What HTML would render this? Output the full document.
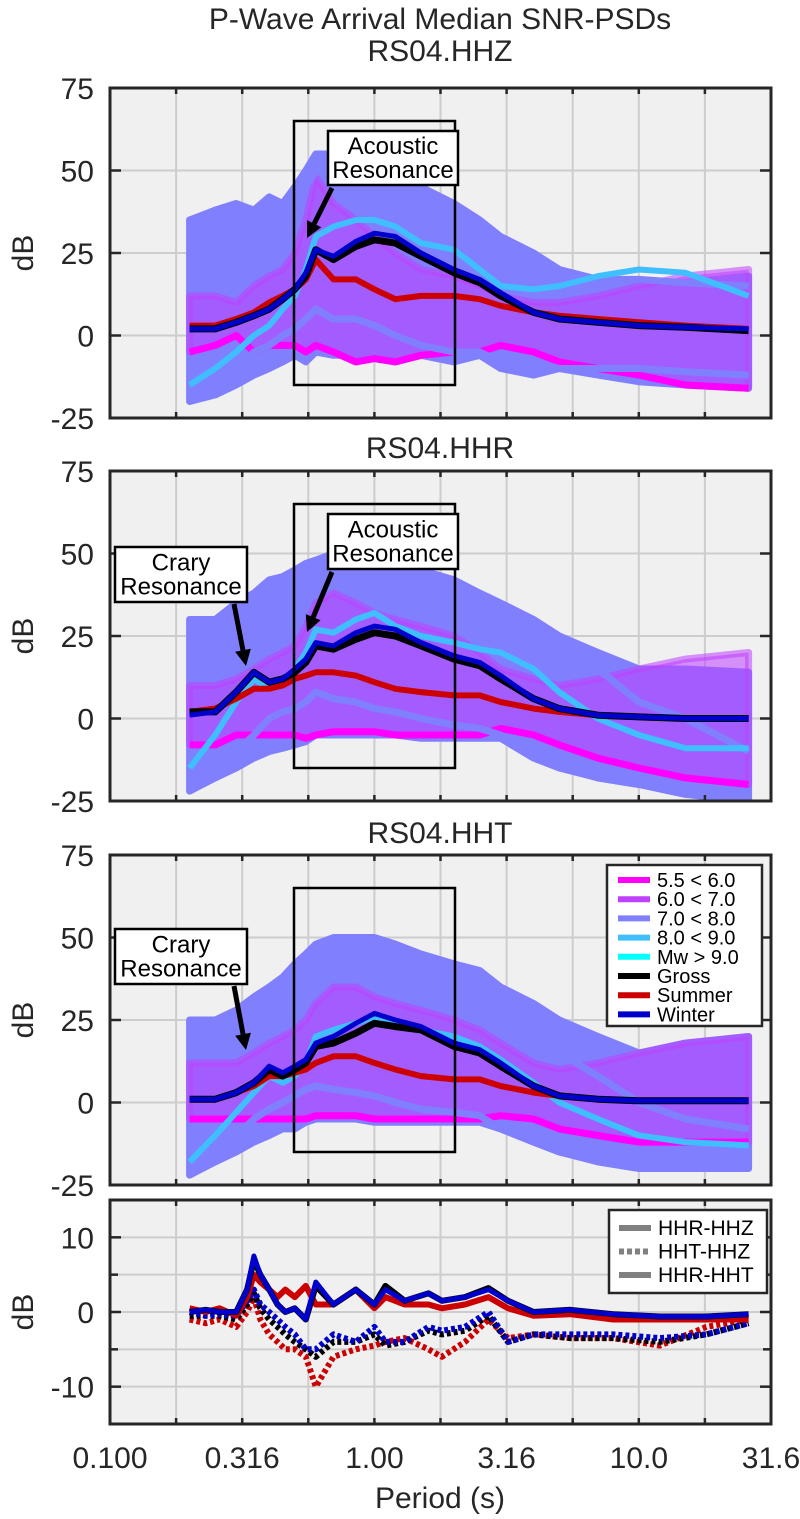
<!DOCTYPE html>
<html><head><meta charset="utf-8"><style>
html,body{margin:0;padding:0;background:#fff;}
svg{display:block;font-family:"Liberation Sans",Arial,sans-serif;}
</style></head><body>
<svg id="chart" width="800" height="1519" viewBox="0 0 800 1519" xmlns="http://www.w3.org/2000/svg"></svg>
<script>
// ---- shared period grid (s) ----
const periods = [0.2,0.25,0.3,0.35,0.4,0.45,0.5,0.55,0.6,0.7,0.85,1.0,1.2,1.5,2.0,2.5,3.0,4.0,5.0,7.0,10,15,26];
const xTickValues = [0.1,0.316,1.0,3.16,10,31.6];
const xTickLabels = ["0.100","0.316","1.00","3.16","10.0","31.6"];
const yTicksMain = [-25,0,25,50,75];
const yTicksDiff = [-10,0,10];

// ---- HHZ ----
const hhzGross  = [2,2,4,6,8,11,14,18,26,23,27,29,28,24,19,16,12,7,5,4,3,2.5,1.5];
const hhzWinter = [2,2,4,6,8,11,14,19,26,24,28.5,31,30,25,20,17,13,7,5,4,3,2.5,2];
const hhzSummer = [3,3,5,7,10,12,14,17,23,17,17,14,11,12,12,11,9,7,6,5,4,3,2];
const hhzCyan   = [-15,-10,-5,0,3,8,12,20,30,33,35,35,33,28,26,20,15,14,15,18,20,19,12];
const hhzEnvUp  = [35,38,40,38,42,40,45,50,55,55,55,52,50,45,40,35,30,25,20,17,15,16,18];
const hhzEnvLo  = [-20,-18,-15,-12,-10,-8,-6,-8,-5,-6,-6,-7,-8,-6,-8,-6,-10,-12,-10,-12,-14,-15,-16];
const hhzMagUp  = [12,12,10,15,18,20,25,35,48,40,35,30,25,20,18,15,12,10,10,12,15,18,20];
const hhzMagLo  = [-5,-3,0,-5,-3,-3,-3,-5,-3,-5,-8,-7,-8,-6,-5,-5,-3,-5,-8,-10,-12,-15,-16];
const hhzLav1   = [30,38,35,32,40,38,40,45,50,52,50,48,45,40,35,30,25,20,18,17,17,16,15];
const hhzLav2   = [-18,-15,-10,-5,-3,0,2,5,8,5,5,3,0,-3,-5,-5,-8,-8,-10,-10,-10,-11,-12];

// ---- HHR ----
const hhrGross  = [2,2,8,14,11,12,14,17,22,21,24,26,25,22,18,16,12,6,3,1,0.5,0,0];
const hhrWinter = [1,2,8,14,11,12,15,18,23,22,26,28,27,23,19,17,13,6,3,1,0.5,0,0];
const hhrSummer = [2,3,6,9,9,10,12,13,14,14,13,11,9,8,7,7,5,3,2,1,0.5,0,0];
const hhrCyan   = [-15,-5,5,12,9,10,15,20,27,26,30,32,28,25,23,21,20,15,8,0,-5,-9,-9];
const hhrEnvUp  = [30,30,35,38,42,43,45,47,48,50,52,50,48,45,42,38,35,30,25,20,15,15,14];
const hhrEnvLo  = [-22,-18,-15,-12,-10,-9,-8,-7,-5,-5,-5,-5,-5,-6,-6,-6,-6,-12,-15,-18,-20,-23,-25];
const hhrMagUp  = [10,10,12,15,18,20,22,28,35,38,35,32,30,28,25,20,15,12,10,12,15,18,20];
const hhrMagLo  = [-8,-8,-5,-5,-5,-5,-5,-6,-5,-4,-4,-4,-5,-5,-5,-5,-3,-5,-8,-12,-15,-18,-20];
const hhrLav1   = [28,25,30,35,38,40,40,42,45,45,48,45,43,40,38,36,33,28,22,15,5,0,-10];
const hhrLav2   = [-20,-15,-10,-5,0,2,3,5,8,6,5,3,2,0,-2,-3,-5,-10,-14,-18,-20,-22,-24];

// ---- HHT ----
const hhtGross  = [1,1,3,6,10,8,10,12,17,18,21,24,23,22,17,15,11,5,2,1,0.5,0.5,0.5];
const hhtWinter = [1,1,3,6,11,9,11,13,18,20,24,27,25,23,18,16,12,5,2,1,0.5,0.5,0.5];
const hhtSummer = [1,1,3,5,8,8,9,10,12,14,14,12,10,8,7,7,5,3,2,1,0.5,0.5,0.5];
const hhtCyan   = [-18,-10,-3,3,8,6,8,12,20,22,24,26,24,22,20,17,13,6,0,-5,-10,-12,-13];
const hhtEnvUp  = [25,25,28,32,35,38,42,45,48,50,50,50,48,45,42,40,35,30,25,20,15,18,20];
const hhtEnvLo  = [-22,-18,-15,-12,-10,-8,-8,-6,-5,-5,-5,-6,-6,-6,-6,-6,-8,-12,-15,-18,-20,-20,-20];
const hhtMagUp  = [12,12,12,15,18,20,22,25,30,35,35,32,30,28,25,22,18,12,10,12,15,18,20];
const hhtMagLo  = [-5,-5,-5,-5,-5,-5,-5,-5,-4,-4,-4,-5,-5,-5,-5,-5,-4,-5,-8,-10,-12,-12,-12];
const hhtLav1   = [20,22,25,30,32,35,40,42,45,47,48,46,43,40,38,35,30,22,15,8,0,-5,-8];
const hhtLav2   = [-20,-15,-10,-5,-2,0,2,4,5,4,3,2,0,-2,-3,-4,-8,-12,-15,-16,-18,-19,-20];

// ---- differences ----
const diffPeriods = [0.2,0.23,0.26,0.3,0.33,0.35,0.37,0.4,0.43,0.46,0.5,0.55,0.6,0.7,0.85,1.0,1.1,1.3,1.6,1.8,2.2,2.7,3.2,4,5.5,8,12,18,26];
const diffBlackSolid = [0,0.3,0,0,3,7,5,3,1,0,0.5,-1,3.5,1,3,1,3.5,1.5,2.5,1.5,2,3.2,1.5,0,0.3,-0.3,-0.6,-0.6,-0.3];
const diffRedSolid   = [0.5,0,0.5,-0.5,2,5,4,3,2,3,2,3.5,1,1,3,0.5,2,1,1,0.5,1,2,0.5,-0.5,-0.3,-1,-1,-1,-1];
const diffBlueSolid  = [0,0.3,0,0,3,7.5,5,3,1,0,0.5,-1,4,1,3,1,3,1.5,2.5,1.5,2,3,1.5,0,0.3,-0.3,-0.6,-0.6,-0.3];
const diffBlackDot   = [-0.5,-0.5,-0.5,-1,1,2.5,0.5,-1,-2,-3,-4,-5,-6,-4,-4,-3,-4.5,-4,-2.5,-3,-2.5,-0.5,-4,-3,-3.5,-3.5,-4,-3,-1.5];
const diffRedDot     = [-1,-1.5,-1,-2,0,2,-1,-3,-4,-5,-5,-6,-10,-6,-5,-4.5,-4,-3.5,-5,-6,-4,-1,-3.5,-3,-3.5,-3.5,-4.5,-2,-1];
const diffBlueDot    = [0,-0.5,-0.3,-0.5,1.5,3,1,0,-1,-2,-3,-5,-5,-3,-4,-2,-4,-4,-2,-2.5,-2,0,-4,-3,-3,-3,-3.5,-3,-1.5];

const legendLabels = ["5.5 < 6.0","6.0 < 7.0","7.0 < 8.0","8.0 < 9.0","Mw > 9.0","Gross","Summer","Winter"];
const legendColors = ["#ff00ff","#bf40ff","#8080ff","#40bfff","#00ffff","#000000","#cc0000","#0000cc"];
const diffLegendLabels = ["HHR-HHZ","HHT-HHZ","HHR-HHT"];

const NS = "http://www.w3.org/2000/svg";
const svg = document.getElementById("chart");
const XL = 110, XR = 771;
const FS = 30;
function xs(p){ return XL + (XR-XL) * (Math.log10(p) - Math.log10(0.1)) / (Math.log10(31.6)-Math.log10(0.1)); }
function mk(tag, attrs, parent){
  const e = document.createElementNS(NS, tag);
  for (const k in attrs) e.setAttribute(k, attrs[k]);
  (parent||svg).appendChild(e);
  return e;
}
function txt(x,y,s,size,anchor,parent){
  const t = mk("text",{x:x,y:y,"font-size":size,"text-anchor":anchor||"middle",fill:"#262626"},parent);
  t.textContent = s;
  return t;
}

function makePanel(id, top, bottom, ymin, ymax, yticks, gridVals){
  const ys = v => bottom - (v - ymin) / (ymax - ymin) * (bottom - top);
  const g = mk("g",{});
  
  
  mk("rect",{x:XL,y:top,width:XR-XL,height:bottom-top,fill:"#f0f0f0"},g);
  const clip = mk("clipPath",{id:"clip-"+id},g);
  mk("rect",{x:XL,y:top,width:XR-XL,height:bottom-top},clip);
  for (let k=1;k<10;k++){
    const x = XL + (XR-XL)*k/10;
    mk("line",{x1:x,x2:x,y1:top,y2:bottom,stroke:"#cdcdcd","stroke-width":2},g);
  }
  gridVals.forEach(v=>{ const y=ys(v); mk("line",{x1:XL,x2:XR,y1:y,y2:y,stroke:"#cdcdcd","stroke-width":2},g); });
  const plot = mk("g",{"clip-path":"url(#clip-"+id+")"},g);
  return {g, plot, ys, top, bottom, yticks, ymin, ymax};
}
function finishPanel(P){
  const g = P.g;
  for (let k=1;k<10;k++){
    const x = XL + (XR-XL)*k/10;
    mk("line",{x1:x,x2:x,y1:P.top,y2:P.top+6,stroke:"#262626","stroke-width":2.5},g);
    mk("line",{x1:x,x2:x,y1:P.bottom,y2:P.bottom-6,stroke:"#262626","stroke-width":2.5},g);
  }
  P.yticks.forEach(v=>{
    const y = P.ys(v);
    if (v!==P.ymin && v!==P.ymax){
      mk("line",{x1:XL,x2:XL+11,y1:y,y2:y,stroke:"#262626","stroke-width":2.5},g);
      mk("line",{x1:XR,x2:XR-11,y1:y,y2:y,stroke:"#262626","stroke-width":2.5},g);
    }
    const t = txt(XL-16, y+11, String(v), FS, "end", g);
    
    
  });
  mk("rect",{x:XL,y:P.top,width:XR-XL,height:P.bottom-P.top,fill:"none",stroke:"#262626","stroke-width":3},g);
  const yl = txt(0,0,"dB",FS,"middle",g);
  yl.setAttribute("transform","translate(33,"+((P.top+P.bottom)/2)+") rotate(-90)");
  
  
}
function pathD(px, vals, ys){
  return vals.map((v,i)=>(i?"L":"M")+xs(px[i]).toFixed(1)+","+ys(v).toFixed(1)).join(" ");
}
function band(P, up, lo, color, op, name){
  const d = pathD(periods, up, P.ys) + " " + lo.slice().reverse().map((v,i)=>"L"+xs(periods[periods.length-1-i]).toFixed(1)+","+P.ys(v).toFixed(1)).join(" ") + " Z";
  const e = mk("path",{d:d,fill:color,"fill-opacity":op,stroke:color,"stroke-width":7,"stroke-linejoin":"round","stroke-opacity":op},P.plot);
  
  
}
function line(P, px, vals, color, w, name, dash){
  const a = {d:pathD(px, vals, P.ys),fill:"none",stroke:color,"stroke-width":w,"stroke-linejoin":"round"};
  if (dash) a["stroke-dasharray"] = dash;
  const e = mk("path",a,P.plot);
  
  
}
function boxAnnot(P, g){
  const e = mk("rect",{x:294,y:P.ys(65),width:161,height:P.ys(-15)-P.ys(65),fill:"none",stroke:"#000","stroke-width":2.5},g);
  
  
}
function callout(x,y,w,h,l1,l2,ax1,ay1,ax2,ay2,name){
  const g = mk("g",{});
  
  
  const ang = Math.atan2(ay2-ay1, ax2-ax1);
  const hl = 16, hw = 8;
  const bx = ax2 - hl*Math.cos(ang), by = ay2 - hl*Math.sin(ang);
  mk("line",{x1:ax1,y1:ay1,x2:bx,y2:by,stroke:"#000","stroke-width":5},g);
  mk("polygon",{points:[ax2+","+ay2,(bx+hw*Math.sin(ang))+","+(by-hw*Math.cos(ang)),(bx-hw*Math.sin(ang))+","+(by+hw*Math.cos(ang))].join(" "),fill:"#000"},g);
  mk("rect",{x:x,y:y,width:w,height:h,fill:"#fff",stroke:"#000","stroke-width":2.5},g);
  txt(x+w/2,y+h/2-4,l1,24,"middle",g).setAttribute("fill","#000");
  txt(x+w/2,y+h/2+20,l2,24,"middle",g).setAttribute("fill","#000");
}

function mainPanel(id, top, S){
  const P = makePanel(id, top, top+330, -25, 75, yTicksMain, [0,25,50]);
  band(P, S.envUp, S.envLo, "#8080ff", 1, "mw-7-8-envelope");
  band(P, S.magUp, S.magLo, "#bf40ff", 0.55, "mw-6-7-envelope");
  line(P, periods, S.magLo, "#ff00ff", 7, "mw-5.5-6-line");
  line(P, periods, S.lav1, "#8080ff", 7, "mw-7-8-line-upper");
  line(P, periods, S.lav2, "#8080ff", 7, "mw-7-8-line-lower");
  line(P, periods, S.cyan, "#40bfff", 6, "mw-8-9-line");
  line(P, periods, S.summer, "#cc0000", 6, "summer-line");
  line(P, periods, S.gross, "#000000", 7, "gross-line");
  line(P, periods, S.winter, "#0000cc", 5, "winter-line");
  boxAnnot(P, P.g);
  finishPanel(P);
  return P;
}

[["P-Wave Arrival Median SNR-PSDs",29,"figure-title"],["RS04.HHZ",61,"hhz-title"],["RS04.HHR",458,"hhr-title"],["RS04.HHT",843,"hht-title"]].forEach(t=>{
  const e = txt(440,t[1],t[0],FS,"middle");
  
  
});

mainPanel("hhz", 88, {gross:hhzGross,winter:hhzWinter,summer:hhzSummer,cyan:hhzCyan,envUp:hhzEnvUp,envLo:hhzEnvLo,magUp:hhzMagUp,magLo:hhzMagLo,lav1:hhzLav1,lav2:hhzLav2});
mainPanel("hhr", 471, {gross:hhrGross,winter:hhrWinter,summer:hhrSummer,cyan:hhrCyan,envUp:hhrEnvUp,envLo:hhrEnvLo,magUp:hhrMagUp,magLo:hhrMagLo,lav1:hhrLav1,lav2:hhrLav2});
mainPanel("hht", 855, {gross:hhtGross,winter:hhtWinter,summer:hhtSummer,cyan:hhtCyan,envUp:hhtEnvUp,envLo:hhtEnvLo,magUp:hhtMagUp,magLo:hhtMagLo,lav1:hhtLav1,lav2:hhtLav2});

callout(328,131,130,54,"Acoustic","Resonance",332,188,307,238,"hhz-acoustic-callout");
callout(328,514,130,55,"Acoustic","Resonance",332,572,307,632,"hhr-acoustic-callout");
callout(115,547,132,55,"Crary","Resonance",234,604,246,666,"hhr-crary-callout");
callout(115,929,132,55,"Crary","Resonance",234,986,246,1050,"hht-crary-callout");

(function(){
  const g = mk("g",{});
  
  
  mk("rect",{x:607,y:865,width:155,height:161,fill:"#fff",stroke:"#262626","stroke-width":2.5},g);
  legendLabels.forEach((s,i)=>{
    const y = 880 + i*19.2;
    const e = mk("line",{x1:618,x2:650,y1:y,y2:y,stroke:legendColors[i],"stroke-width":6},g);
    
    
    const t = txt(657,y+7,s,20,"start",g);
    t.setAttribute("fill","#000");
    
    
  });
})();

(function(){
  const P = makePanel("diff", 1200, 1424, -15, 15, yTicksDiff, [-10,-5,0,5,10]);
  line(P, diffPeriods, diffRedDot, "#cc0000", 6, "summer-hht-hhz", "4 3");
  line(P, diffPeriods, diffBlackDot, "#000000", 6, "gross-hht-hhz", "4 3");
  line(P, diffPeriods, diffBlueDot, "#0000cc", 6, "winter-hht-hhz", "4 3");
  line(P, diffPeriods, diffRedSolid, "#cc0000", 6, "summer-hhr-hhz");
  line(P, diffPeriods, diffBlackSolid, "#000000", 6, "gross-hhr-hhz");
  line(P, diffPeriods, diffBlueSolid, "#0000cc", 5, "winter-hhr-hhz");
  [-5,5].forEach(v=>{const y=P.ys(v);
    mk("line",{x1:XL,x2:XL+8,y1:y,y2:y,stroke:"#262626","stroke-width":2.5},P.g);
    mk("line",{x1:XR,x2:XR-8,y1:y,y2:y,stroke:"#262626","stroke-width":2.5},P.g);});
  finishPanel(P);
  const lg = mk("g",{});
  
  
  mk("rect",{x:609,y:1210,width:158,height:83,fill:"#fff",stroke:"#262626","stroke-width":2.5},lg);
  diffLegendLabels.forEach((s,i)=>{
    const y = 1228 + i*23.5;
    const a = {x1:619,x2:651,y1:y,y2:y,stroke:"#808080","stroke-width":6};
    if (i===1) a["stroke-dasharray"]="5 3";
    const e = mk("line",a,lg);
    
    
    const t = txt(658,y+7,s,21,"start",lg);
    t.setAttribute("fill","#000");
    
    
  });
})();

xTickValues.forEach((v,i)=>{
  const t = txt(xs(v), 1468, xTickLabels[i], FS, "middle");
  
  
});
const xt = txt(440, 1508, "Period (s)", FS, "middle");


</script>
</body></html>
